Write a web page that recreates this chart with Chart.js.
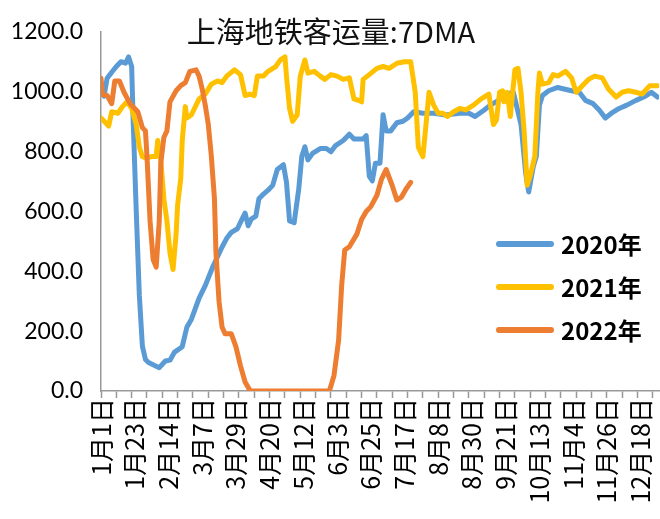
<!DOCTYPE html>
<html>
<head>
<meta charset="utf-8">
<script src="https://cdn.jsdelivr.net/npm/chart.js@4.4.0/dist/chart.umd.min.js"></script>
<style>
  body { margin: 0; background: #fff; }
  #wrap { width: 660px; height: 519px; position: relative; }
</style>
</head>
<body>
<div id="wrap"><canvas id="myChart"></canvas></div>
<script>
// 标题 / 图例
const chartTitle = '上海地铁客运量:7DMA';
const seriesNames = ['2020年', '2021年', '2022年'];
const seriesColors = ['#5B9BD5', '#FFC000', '#ED7D31'];

// x轴刻度 (一年中的第几天) 和标签
const tickDays = [0, 22, 44, 66, 88, 110, 132, 154, 176, 198, 220, 242, 264, 286, 308, 330, 352];
const tickLabels = ['1月1日', '1月23日', '2月14日', '3月7日', '3月29日', '4月20日', '5月12日', '6月3日',
  '6月25日', '7月17日', '8月8日', '8月30日', '9月21日', '10月13日', '11月4日', '11月26日', '12月18日'];

// 2020年
const days2020 = [0, 2, 4, 7, 10, 13, 16, 18, 20, 21, 23, 25, 27, 29, 31, 35, 38, 42, 45, 48, 53, 56, 59, 64, 68,
  73, 79, 82, 85, 89, 92, 94, 96, 98, 101, 103, 106, 109, 112, 115, 119, 121, 123, 126, 129, 131, 133, 135, 138,
  143, 147, 150, 153, 158, 162, 165, 171, 173, 175, 177, 179, 182, 184, 186, 189, 193, 197, 200, 204, 210, 217,
  225, 234, 240, 244, 250, 254, 261, 265, 269, 274, 277, 279, 282, 284, 286, 288, 292, 298, 302, 307, 312, 316,
  321, 325, 329, 333, 338, 343, 349, 354, 359, 363];
const values2020 = [1000, 985, 1045, 1065, 1084, 1100, 1095, 1116, 1084, 900, 600, 320, 150, 105, 95, 85, 78, 100,
  103, 130, 148, 213, 240, 310, 352, 416, 481, 510, 530, 542, 574, 594, 552, 574, 584, 642, 658, 671, 687, 740,
  756, 697, 568, 562, 675, 784, 816, 772, 794, 810, 810, 799, 820, 837, 858, 842, 842, 853, 718, 702, 761, 761,
  923, 869, 869, 896, 901, 912, 933, 928, 928, 922, 928, 928, 917, 939, 955, 976, 992, 998, 890, 729, 665, 750,
  784, 955, 987, 1003, 1014, 1009, 1003, 998, 971, 960, 939, 912, 928, 944, 955, 971, 982, 998, 982];

// 2021年
const days2021 = [0, 3, 5, 7, 11, 14, 17, 20, 23, 25, 27, 29, 33, 36, 37, 39, 41, 43, 45, 47, 49, 50, 52, 53, 55,
  56, 59, 64, 68, 72, 76, 79, 82, 87, 91, 94, 97, 100, 102, 106, 109, 114, 117, 120, 121, 123, 125, 128, 130, 133,
  135, 139, 143, 146, 150, 154, 158, 162, 165, 168, 170, 171, 175, 180, 184, 188, 193, 198, 202, 205, 207, 210,
  212, 214, 217, 220, 223, 226, 230, 234, 238, 243, 248, 253, 256, 258, 260, 262, 263, 265, 267, 270, 272, 274,
  276, 278, 280, 283, 285, 286, 288, 292, 295, 298, 303, 307, 310, 314, 318, 322, 327, 331, 336, 340, 344, 349,
  353, 358, 363];
const values2021 = [912, 896, 885, 933, 928, 950, 966, 944, 890, 815, 783, 778, 783, 783, 837, 772, 643, 568, 461,
  406, 525, 622, 708, 837, 950, 912, 923, 976, 992, 1025, 1036, 1030, 1052, 1073, 1057, 987, 992, 987, 1052, 1052,
  1068, 1084, 1106, 1116, 1052, 944, 901, 923, 1052, 1106, 1062, 1068, 1052, 1041, 1057, 1052, 1041, 1046, 976,
  971, 966, 1041, 1057, 1078, 1084, 1078, 1095, 1100, 1100, 998, 815, 783, 890, 998, 955, 928, 928, 917, 933, 944,
  939, 955, 976, 992, 890, 906, 998, 1003, 966, 998, 917, 1073, 1078, 998, 869, 687, 719, 784, 998, 1062, 1025,
  1030, 1057, 1052, 1068, 1046, 998, 1020, 1041, 1052, 1046, 1009, 982, 998, 1003, 998, 992, 1020, 1020];

// 2022年
const days2022 = [0, 1, 4, 7, 9, 12, 15, 19, 24, 27, 29, 30, 32, 34, 36, 38, 39, 41, 43, 45, 49, 52, 55, 58, 62,
  64, 66, 68, 70, 72, 74, 75, 77, 79, 81, 85, 88, 91, 94, 97, 98, 149, 152, 155, 157, 159, 162, 167, 170, 173, 176,
  180, 183, 186, 190, 193, 196, 199, 202];
const values2022 = [1045, 990, 987, 960, 1036, 1036, 998, 960, 933, 880, 869, 783, 568, 439, 414, 568, 761, 847,
  869, 966, 1003, 1020, 1030, 1068, 1073, 1052, 1009, 955, 890, 783, 643, 461, 299, 213, 191, 191, 148, 84, 30, 3,
  0, 0, 52, 170, 353, 471, 482, 525, 573, 600, 616, 654, 708, 740, 686, 638, 648, 675, 697];

// y轴
const yMin = 0;
const yMax = 1200;
const yStep = 200;

function toPoints(days, values) {
  return days.map((d, i) => ({ x: d, y: values[i] }));
}

// 标题插件
const titlePlugin = {
  id: 'titleText',
  afterDraw(chart) {
    const c = chart.ctx;
    c.save();
    c.font = '29px "Noto Sans CJK SC"';
    c.fillStyle = '#111';
    c.textAlign = 'center';
    c.textBaseline = 'middle';
    c.fillText(chartTitle, 331, 32);
    c.restore();
  }
};

// 图例插件 (画在图内右侧)
const legendPlugin = {
  id: 'innerLegend',
  afterDraw(chart) {
    const c = chart.ctx;
    c.save();
    c.font = 'bold 24px "Noto Sans CJK SC"';
    c.textBaseline = 'middle';
    c.textAlign = 'left';
    c.lineCap = 'round';
    c.lineWidth = 6;
    seriesNames.forEach((name, i) => {
      const y = 244 + i * 43;
      c.strokeStyle = seriesColors[i];
      c.beginPath();
      c.moveTo(499, y);
      c.lineTo(551, y);
      c.stroke();
      c.fillStyle = '#000';
      c.fillText(name, 561, y + 1);
    });
    c.restore();
  }
};

const ctx = document.getElementById('myChart').getContext('2d');

const myChart = new Chart(ctx, {
  type: 'line',
  data: {
    datasets: [
      { label: seriesNames[0], data: toPoints(days2020, values2020), borderColor: seriesColors[0], order: 3 },
      { label: seriesNames[1], data: toPoints(days2021, values2021), borderColor: seriesColors[1], order: 2 },
      { label: seriesNames[2], data: toPoints(days2022, values2022), borderColor: seriesColors[2], order: 1 }
    ]
  },
  options: {
    responsive: true,
    maintainAspectRatio: false,
    animation: false,
    layout: { padding: { top: 19, right: 1, left: 0, bottom: 0 } },
    elements: {
      line: { borderWidth: 5, tension: 0, borderJoinStyle: 'round', borderCapStyle: 'round', fill: false },
      point: { radius: 0, hoverRadius: 0 }
    },
    plugins: {
      legend: { display: false },
      tooltip: { enabled: false }
    },
    scales: {
      x: {
        type: 'linear',
        min: 0,
        max: 364,
        afterFit(scale) {
          scale.height = 128;
          scale.paddingLeft = 0;
          scale.paddingRight = 0;
        },
        grid: {
          display: true,
          drawOnChartArea: false,
          drawTicks: true,
          tickLength: 7,
          tickWidth: 1.5,
          tickColor: (c) => (c.tick && c.tick.value % 10 === 0 ? '#999' : 'rgba(0,0,0,0)')
        },
        border: { display: true, color: '#999', width: 1.5 },
        ticks: {
          stepSize: 2,
          autoSkip: false,
          maxTicksLimit: 1000,
          minRotation: 90,
          maxRotation: 90,
          padding: 0,
          color: '#000',
          font: { family: '"Noto Sans CJK SC"', size: 25 },
          callback: (value) => {
            const i = tickDays.indexOf(value);
            return i >= 0 ? tickLabels[i] : '';
          }
        }
      },
      y: {
        min: yMin,
        max: yMax,
        afterFit(scale) { scale.width = 101; },
        grid: { display: false, drawTicks: false },
        border: { display: true, color: '#999', width: 1.5 },
        ticks: {
          stepSize: yStep,
          padding: 18,
          color: '#000',
          font: { family: 'Lato', size: 23 },
          callback: (value) => value.toFixed(1)
        }
      }
    }
  },
  plugins: [titlePlugin, legendPlugin]
});
</script>
</body>
</html>
